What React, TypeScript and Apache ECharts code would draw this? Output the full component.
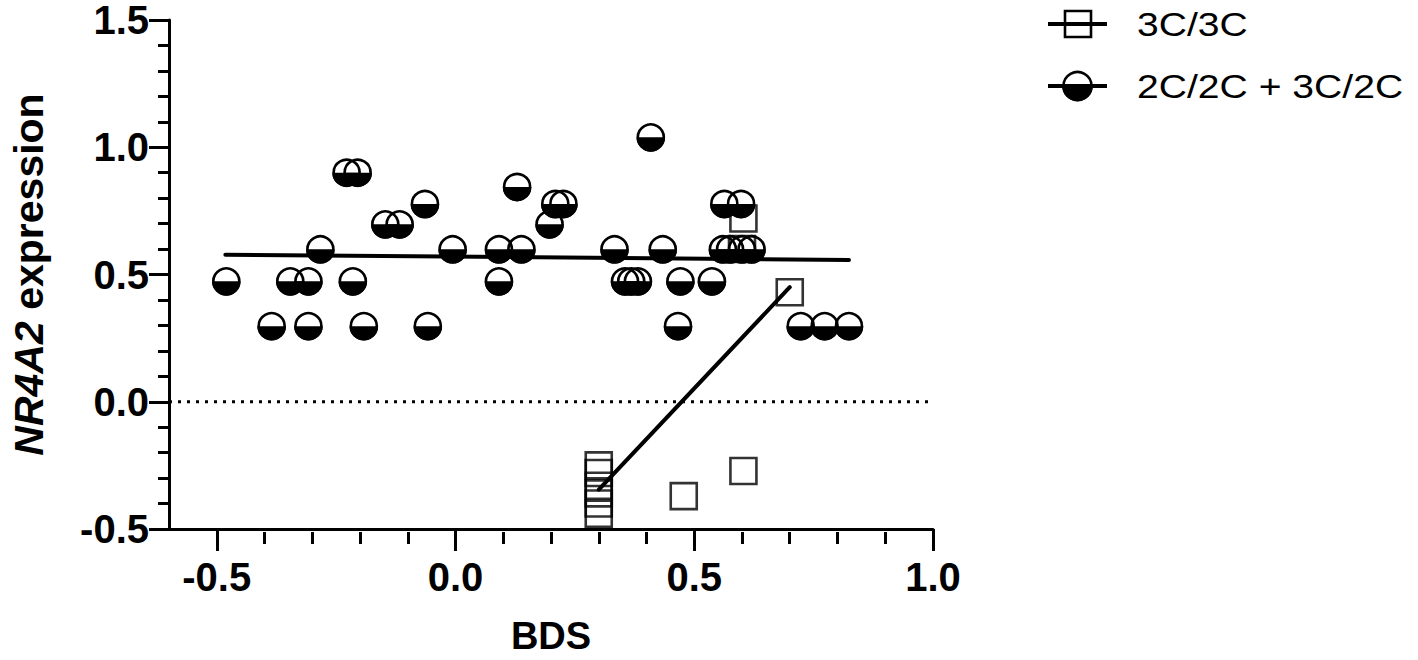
import React, { useEffect, useRef } from "react";
import * as echarts from "echarts";

// 2C/2C + 3C/2C group (half-filled circles)
const group2C: number[][] = [
  [-0.48, 0.473], [-0.346, 0.473], [-0.308, 0.473], [-0.215, 0.473], [0.091, 0.473],
  [0.355, 0.473], [0.368, 0.473], [0.382, 0.473], [0.471, 0.473], [0.537, 0.473],
  [-0.385, 0.297], [-0.308, 0.297], [-0.192, 0.297], [-0.058, 0.297], [0.466, 0.297],
  [0.723, 0.297], [0.773, 0.297], [0.824, 0.297],
  [-0.283, 0.599], [-0.006, 0.599], [0.091, 0.599], [0.138, 0.599], [0.333, 0.599],
  [0.434, 0.599], [0.56, 0.599], [0.575, 0.599], [0.60, 0.599], [0.62, 0.599],
  [-0.147, 0.697], [-0.117, 0.697], [0.197, 0.697],
  [-0.064, 0.777], [0.209, 0.777], [0.226, 0.777], [0.563, 0.777], [0.598, 0.777],
  [0.129, 0.844],
  [-0.228, 0.9], [-0.205, 0.9],
  [0.409, 1.039],
];

// 3C/3C group (open squares)
const group3C: number[][] = [
  [0.30, -0.25], [0.30, -0.28], [0.30, -0.33], [0.30, -0.36], [0.30, -0.40], [0.30, -0.44],
  [0.478, -0.371], [0.603, -0.272], [0.60, 0.60], [0.603, 0.72], [0.70, 0.43],
];

// regression lines
const fit2C: number[][] = [[-0.482, 0.578], [0.824, 0.557]];
const fit3C: number[][] = [[0.30, -0.345], [0.70, 0.45]];
const zeroLine: number[][] = [[-0.6, 0], [1.0, 0]];

// axis ticks
const xMajorTicks = [-0.5, 0, 0.5, 1.0];
const xMinorTicks = [-0.4, -0.3, -0.2, -0.1, 0.1, 0.2, 0.3, 0.4, 0.6, 0.7, 0.8, 0.9];

const legendNames = ["3C/3C", "2C/2C + 3C/2C"];

const FONT = "'Liberation Sans', Arial, Helvetica, sans-serif";
const R = 13;
const SW = 2.6;

function halfCircle(cx: number, cy: number, r: number) {
  return [
    {
      type: "circle",
      shape: { cx, cy, r },
      style: { fill: "none", stroke: "#000", lineWidth: SW },
    },
    {
      type: "sector",
      shape: { cx, cy, r0: 0, r: r + SW / 2, startAngle: 0, endAngle: Math.PI, clockwise: true },
      style: { fill: "#000" },
    },
  ];
}

export default function App() {
  const ref = useRef<HTMLDivElement>(null);
  useEffect(() => {
    if (!ref.current) return;
    const chart = echarts.init(ref.current, null, { renderer: "svg" });
    const option: any = {
      animation: false,
      backgroundColor: "#fff",
      grid: { left: 165, right: 485, top: 17, bottom: 131, containLabel: false },
      xAxis: [
        {
          type: "value",
          min: -0.6,
          max: 1.0,
          position: "bottom",
          name: "BDS",
          nameLocation: "middle",
          nameGap: 88,
          nameTextStyle: { fontFamily: FONT, fontWeight: "bold", fontSize: 38, color: "#000" },
          axisLine: { show: true, onZero: false, lineStyle: { color: "#000", width: 3 } },
          axisTick: { show: true, customValues: xMajorTicks, length: 22, lineStyle: { color: "#000", width: 3 } },
          axisLabel: {
            show: true,
            customValues: xMajorTicks,
            formatter: (v: number) => v.toFixed(1),
            fontFamily: FONT,
            fontWeight: "bold",
            fontSize: 40,
            color: "#000",
            margin: 28,
          },
          splitLine: { show: false },
        },
        {
          type: "value",
          min: -0.6,
          max: 1.0,
          position: "top",
          offset: -512,
          axisLine: { show: false },
          axisTick: { show: true, inside: true, customValues: xMinorTicks, length: 12, lineStyle: { color: "#000", width: 3 } },
          axisLabel: { show: false },
          splitLine: { show: false },
        },
      ],
      yAxis: {
        type: "value",
        min: -0.5,
        max: 1.5,
        interval: 0.5,
        name: "{i|NR4A2} expression",
        nameLocation: "middle",
        nameGap: 120,
        nameRotate: 90,
        nameTextStyle: {
          fontFamily: FONT,
          fontWeight: "bold",
          fontSize: 41,
          color: "#000",
          rich: { i: { fontFamily: FONT, fontWeight: "bold", fontStyle: "italic", fontSize: 41, color: "#000" } },
        },
        axisLine: { show: true, onZero: false, lineStyle: { color: "#000", width: 3 } },
        axisTick: { show: true, length: 20, lineStyle: { color: "#000", width: 3 } },
        minorTick: { show: true, splitNumber: 5, length: 11, lineStyle: { color: "#000", width: 3 } },
        axisLabel: {
          formatter: (v: number) => v.toFixed(1),
          fontFamily: FONT,
          fontWeight: "bold",
          fontSize: 40,
          color: "#000",
          margin: 20,
        },
        splitLine: { show: false },
      },
      series: [
        {
          type: "line",
          data: zeroLine,
          symbol: "none",
          silent: true,
          lineStyle: { color: "#000", width: 3, type: [3, 6] },
          z: 1,
        },
        {
          type: "scatter",
          name: legendNames[0],
          data: group3C,
          symbol: "rect",
          symbolSize: 26,
          itemStyle: { color: "rgba(0,0,0,0)", borderColor: "#000", borderWidth: SW },
          z: 2,
        },
        {
          type: "custom",
          name: legendNames[1],
          data: group2C,
          renderItem: (params: any, api: any) => {
            const p = api.coord([api.value(0), api.value(1)]);
            return { type: "group", children: halfCircle(p[0], p[1], R) };
          },
          z: 3,
        },
        {
          type: "line",
          data: fit2C,
          symbol: "none",
          lineStyle: { color: "#000", width: 4, cap: "round" },
          z: 4,
        },
        {
          type: "line",
          data: fit3C,
          symbol: "none",
          lineStyle: { color: "#000", width: 4, cap: "round" },
          z: 4,
        },
      ],
      graphic: [
        { type: "line", shape: { x1: 1048, y1: 24, x2: 1107, y2: 24 }, style: { stroke: "#000", lineWidth: 4 } },
        { type: "rect", shape: { x: 1065, y: 11, width: 26, height: 26 }, style: { fill: "none", stroke: "#000", lineWidth: SW } },
        {
          type: "text",
          x: 1137,
          y: 24,
          scaleX: 1.15,
          style: { text: legendNames[0], fontFamily: FONT, fontSize: 34, fill: "#000", verticalAlign: "middle", align: "left" },
        },
        { type: "line", shape: { x1: 1048, y1: 86, x2: 1107, y2: 86 }, style: { stroke: "#000", lineWidth: 4 } },
        ...halfCircle(1077.5, 86, 14),
        {
          type: "text",
          x: 1137,
          y: 86,
          scaleX: 1.15,
          style: { text: legendNames[1], fontFamily: FONT, fontSize: 34, fill: "#000", verticalAlign: "middle", align: "left" },
        },
      ],
    };
    chart.setOption(option);
    return () => chart.dispose();
  }, []);
  return <div ref={ref} style={{ position: "fixed", left: 0, top: 0, width: 1418, height: 660 }} />;
}
